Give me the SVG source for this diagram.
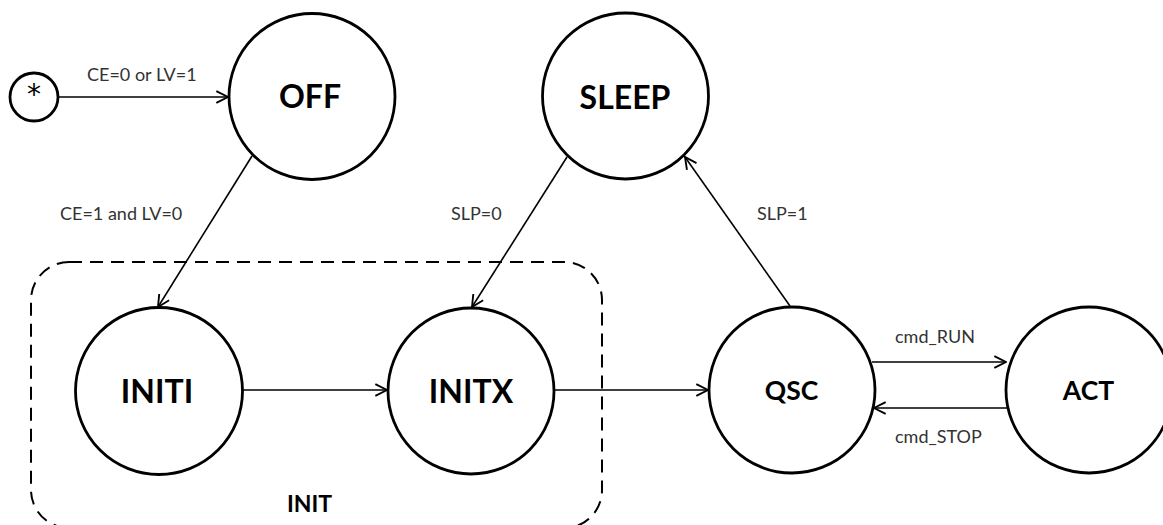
<svg xmlns="http://www.w3.org/2000/svg" width="1163" height="525" viewBox="0 0 1163 525">
<style>
.node{fill:#fff;stroke:#000;stroke-width:2.8}
.nt{font-family:Lato,"Liberation Sans",sans-serif;font-weight:bold;fill:#000;text-anchor:middle}
.lbl{font-family:Lato,"Liberation Sans",sans-serif;font-size:18px;fill:#333}
.edge{stroke:#000;stroke-width:1.6;fill:none;marker-end:url(#arr)}
</style>
<defs>
<marker id="arr" markerUnits="userSpaceOnUse" markerWidth="14" markerHeight="14" viewBox="0 0 12 12" refX="11" refY="6" orient="auto">
<path d="M1,1 L11,6 L1,11" fill="none" stroke="#000" stroke-width="1.6"/>
</marker>
</defs>
<rect width="1163" height="525" fill="#fff"/>
<g id="init-group">
<rect x="31" y="262" width="571" height="266" rx="38" ry="38" fill="none" stroke="#000" stroke-width="2" stroke-dasharray="13 8"/>
<text class="nt" x="309.5" y="512" font-size="23">INIT</text>
</g>
<g id="connectors">
<line class="edge" x1="58" y1="97" x2="228" y2="97"/>
<line class="edge" x1="252" y1="156" x2="158" y2="307"/>
<line class="edge" x1="567" y1="157" x2="472" y2="307"/>
<line class="edge" x1="790" y1="306" x2="685" y2="157"/>
<line class="edge" x1="243" y1="390" x2="387" y2="390"/>
<line class="edge" x1="554" y1="390" x2="708" y2="390"/>
<line class="edge" x1="872" y1="362" x2="1006" y2="362"/>
<line class="edge" x1="1008" y1="408" x2="874" y2="408"/>
<text class="lbl" x="87" y="81">CE=0 or LV=1</text>
<text class="lbl" x="60" y="220">CE=1 and LV=0</text>
<text class="lbl" x="451" y="220">SLP=0</text>
<text class="lbl" x="757" y="220">SLP=1</text>
<text class="lbl" x="895" y="343">cmd_RUN</text>
<text class="lbl" x="895" y="443">cmd_STOP</text>
</g>
<g id="start">
<circle class="node" cx="34" cy="97" r="24" stroke-width="2.4"/>
<text x="34" y="104" font-family="'DejaVu Sans',sans-serif" font-size="28" text-anchor="middle" fill="#000">*</text>
</g>
<g id="OFF">
<circle class="node" cx="312" cy="96.5" r="83"/>
<text class="nt" x="310" y="108" font-size="32">OFF</text>
</g>
<g id="SLEEP">
<circle class="node" cx="625.5" cy="96" r="83"/>
<text class="nt" x="625" y="109" font-size="32">SLEEP</text>
</g>
<g id="INITI">
<circle class="node" cx="159" cy="391" r="83.5"/>
<text class="nt" x="157" y="403" font-size="32">INITI</text>
</g>
<g id="INITX">
<circle class="node" cx="471" cy="391" r="83"/>
<text class="nt" x="471" y="403" font-size="32">INITX</text>
</g>
<g id="QSC">
<circle class="node" cx="792" cy="390" r="83"/>
<text class="nt" x="791.5" y="400" font-size="26.5">QSC</text>
</g>
<g id="ACT">
<circle class="node" cx="1089" cy="390" r="83"/>
<text class="nt" x="1088.5" y="400" font-size="26.5">ACT</text>
</g>
</svg>
